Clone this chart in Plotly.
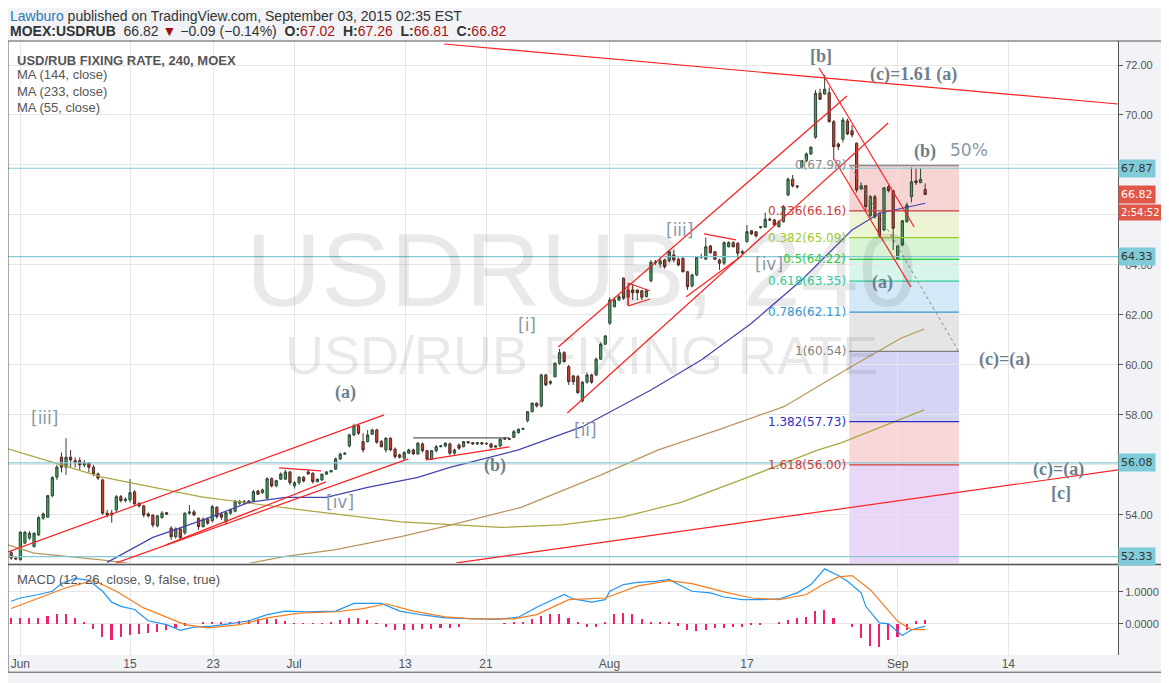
import plotly.graph_objects as go
from plotly.subplots import make_subplots

# ---------------- data (4h candles, bar index 0..200) ----------------
opens = [52.49,52.27,52.2,52.87,53.07,52.73,53.2,53.87,53.91,54.77,
 55.51,56.31,55.91,56.31,56.17,56.17,56.0,56.09,55.91,55.64,
 55.4,54.07,54.07,54.2,54.73,54.57,54.6,54.92,54.47,54.36,
 54.04,54.0,53.56,53.89,54.09,53.47,53.13,53.44,53.29,54.07,
 54.12,53.87,53.53,53.83,53.77,54.31,54.04,53.73,54.07,54.15,
 54.47,54.53,54.5,54.57,54.96,54.89,54.67,55.45,55.17,55.43,
 55.43,55.72,55.16,55.29,55.51,55.72,55.67,55.33,55.4,55.63,
 55.72,55.83,56.24,56.43,56.76,57.2,57.57,56.93,56.93,57.23,
 57.4,56.93,56.6,57.07,56.63,56.4,56.27,56.47,56.6,56.44,
 56.84,56.57,56.23,56.57,56.73,56.76,56.84,56.47,56.8,56.73,
 56.93,56.89,56.84,56.89,56.84,56.84,56.71,56.76,57.03,57.05,
 57.1,57.29,57.43,57.77,58.13,58.47,58.36,59.6,59.27,59.53,
 60.07,60.49,59.93,59.56,59.53,58.56,59.31,59.6,59.6,60.23,
 60.83,61.67,62.33,62.6,63.47,62.71,63.0,63.0,62.97,62.73,
 63.37,64.08,64.04,64.2,64.17,64.4,64.23,64.27,63.73,63.16,
 63.6,64.31,64.23,64.76,64.53,64.2,64.07,64.73,64.89,64.87,
 64.47,64.93,65.37,65.33,65.5,65.51,65.83,65.8,65.53,65.73,
 66.8,67.43,67.16,67.91,68.17,68.44,69.11,70.87,70.84,70.89,
 69.73,68.84,69.03,69.76,69.37,68.87,67.04,67.17,65.97,66.73,
 66.07,65.4,67.13,66.97,64.23,64.8,65.73,66.73,67.37,67.29,67.02]
closes = [52.27,52.24,53.31,53.31,53.27,53.27,53.89,54.04,54.77,55.49,
 55.91,55.91,56.31,56.2,56.09,56.0,56.09,55.91,55.64,55.47,
 54.07,54.0,54.0,54.73,54.57,54.63,54.89,54.44,54.36,54.0,
 53.96,53.6,53.96,54.07,54.03,53.13,53.44,53.09,54.07,54.12,
 54.0,53.53,53.83,53.67,54.33,53.93,53.91,54.09,54.2,54.55,
 54.53,54.47,54.55,54.93,54.83,55.0,55.45,55.16,55.37,55.64,
 55.72,55.29,55.29,55.51,55.36,55.64,55.33,55.43,55.63,55.72,
 55.77,56.24,56.43,56.47,57.2,57.57,57.27,56.6,57.2,57.4,
 56.91,56.73,57.07,56.6,56.33,56.31,56.49,56.6,56.44,56.87,
 56.57,56.23,56.57,56.73,56.76,56.87,56.47,56.6,56.67,56.93,
 56.89,56.84,56.89,56.84,56.86,56.71,56.76,57.03,57.05,57.03,
 57.33,57.43,57.45,58.13,58.47,58.36,59.6,59.2,59.33,60.07,
 60.49,60.13,59.33,59.33,58.89,59.31,59.6,59.31,60.23,60.83,
 61.16,62.6,62.6,62.73,62.67,63.0,62.89,62.89,62.71,62.97,
 64.11,64.13,64.17,63.93,64.53,64.2,64.0,63.73,63.13,63.6,
 64.31,64.33,64.73,64.49,64.23,64.07,64.89,64.89,64.73,64.47,
 64.53,65.33,65.24,65.16,65.53,65.83,65.8,65.6,65.73,66.33,
 67.43,67.16,67.13,68.17,68.44,68.71,70.87,70.63,71.03,69.73,
 68.73,68.73,69.8,69.24,69.2,67.0,67.17,66.33,66.73,65.93,
 65.2,67.09,66.97,65.47,64.76,65.77,66.4,67.33,67.29,67.43,66.82]
highs = [52.6,52.3,53.35,53.35,53.35,53.3,53.95,54.1,54.8,55.55,
 56.0,56.5,57.07,56.6,56.3,56.3,56.2,56.1,56.0,55.7,
 55.45,54.2,54.2,54.8,54.8,54.7,55.43,55.0,54.5,54.4,
 54.1,54.0,54.0,54.15,54.1,53.55,53.5,53.5,54.1,54.4,
 54.2,53.9,53.9,53.9,54.4,54.35,54.1,54.15,54.25,54.6,
 54.6,54.6,54.6,55.0,55.0,55.05,55.5,55.5,55.4,55.7,
 55.8,55.75,55.35,55.55,55.55,55.8,55.7,55.45,55.65,55.75,
 55.8,56.3,56.5,56.5,57.25,57.65,57.6,57.27,57.4,57.45,
 57.45,57.0,57.1,57.1,56.7,56.45,56.55,56.65,56.65,56.9,
 56.9,56.6,56.6,56.8,56.8,56.9,56.9,56.65,56.85,56.95,
 56.95,56.9,56.92,56.9,56.9,56.88,56.8,57.05,57.1,57.08,
 57.4,57.45,57.5,58.15,58.5,58.5,59.65,59.65,59.4,60.1,
 60.65,60.55,60.0,59.6,59.6,59.35,59.7,59.65,60.3,60.9,
 61.2,62.7,62.7,62.8,63.5,63.1,63.2,63.0,63.0,63.05,
 64.2,64.2,64.3,64.25,64.6,64.6,64.3,64.3,63.75,63.65,
 64.35,64.45,65.1,64.8,64.55,64.25,64.95,64.95,64.95,64.9,
 64.6,65.6,65.4,65.35,65.55,66.1,65.9,65.85,65.8,66.4,
 67.5,67.6,67.2,68.2,68.5,68.75,71.0,71.05,71.6,71.1,
 69.8,68.9,69.9,69.85,69.6,68.9,67.3,67.2,66.8,66.8,
 66.1,67.1,67.2,67.0,64.8,65.8,66.5,67.9,67.87,67.87,67.26]
lows = [52.2,52.2,52.2,52.85,53.0,52.7,53.15,53.8,53.9,54.7,
 55.4,55.7,55.6,55.9,55.9,55.8,55.9,55.7,55.55,55.4,
 54.0,53.9,53.69,54.1,54.5,54.5,54.5,54.4,54.3,53.9,
 53.9,53.5,53.5,53.85,54.0,53.0,53.05,53.0,53.2,54.0,
 53.95,53.4,53.5,53.6,53.7,53.85,53.8,53.6,54.0,54.1,
 54.4,54.4,54.45,54.5,54.8,54.85,54.6,55.1,55.1,55.4,
 55.4,55.2,55.05,55.2,55.3,55.6,55.25,55.3,55.35,55.6,
 55.7,55.8,56.2,56.4,56.7,57.15,57.2,56.5,56.9,57.2,
 56.85,56.7,56.5,56.55,56.25,56.25,56.2,56.45,56.4,56.4,
 56.5,56.2,56.2,56.5,56.7,56.7,56.4,56.4,56.6,56.7,
 56.85,56.8,56.8,56.8,56.8,56.65,56.7,56.7,57.0,57.0,
 57.1,57.25,57.4,57.7,58.1,58.3,58.3,59.15,59.2,59.5,
 60.0,60.1,59.2,59.2,58.85,58.5,59.25,59.25,59.55,60.2,
 60.8,61.6,62.3,62.55,62.6,62.4,62.6,62.6,62.6,62.7,
 63.3,64.0,63.9,63.85,64.1,64.1,63.95,63.7,63.0,63.1,
 63.55,64.25,64.2,64.45,64.2,63.8,64.0,64.7,64.7,64.2,
 64.4,64.9,65.2,65.1,65.45,65.5,65.75,65.55,65.5,65.7,
 66.75,67.1,67.05,67.85,68.1,68.4,69.05,70.6,70.8,69.7,
 68.27,68.6,68.9,69.2,69.1,66.9,67.0,66.2,65.9,65.85,
 65.1,65.35,66.9,64.6,64.2,64.75,65.7,66.5,67.2,67.3,66.81]
bars = list(range(len(closes)))

ma55_x = [21,31,42,52,60,69,78,89,96,111,125,140,151,162,173,184,190,200]
ma55_y = [52.1,53.1,53.8,54.5,54.7,54.7,55.1,55.5,55.9,56.6,57.53,59.0,60.2,61.67,63.4,65.4,66.07,66.47]
ma144_x = [-0.7,5,19.7,30.6,48.8,59.7,70.7,85.3,96.3,111.6,129.1,141.6,154.7,169.1,183.8,194.7,199.8]
ma144_y = [52.8,52.47,52.2,51.95,51.95,52.33,52.6,53.13,53.6,54.3,55.6,56.6,57.4,58.33,59.93,61.07,61.44]
ma233_x = [-0.7,19.7,41.6,63.5,85.3,96.3,107.2,120.4,133.5,146.6,159.7,176.6,181.6,199.8]
ma233_y = [56.64,55.52,54.72,54.2,53.72,53.6,53.5,53.6,53.9,54.5,55.4,56.6,56.88,58.2]

macd_x = [0,2,6,9,11,14,17,20,22,24,27,30,34,37,40,44,48,52,56,60,65,71,75,81,85,90,95,101,106,111,115,121,123,127,130,131,134,137,141,144,146,149,153,156,160,164,168,172,175,178,181,183,186,187,190,192,195,197,200]
macd_y = [.71,.81,.92,1.02,1.26,1.42,1.36,1.02,.68,.55,.45,.10,-.02,-.2,-.1,-.07,.01,.10,.29,.40,.38,.40,.64,.64,.40,.28,.19,.16,.14,.21,.52,.92,.78,.68,.76,1.02,1.23,1.30,1.33,1.39,1.23,1.02,.97,.84,.76,.76,.78,.97,1.23,1.72,1.51,1.33,.97,.55,.03,0,-.36,-.18,-.07]
signal_x = [0,6,12,18,23,29,34,38,43,50,56,63,71,77,82,88,95,101,110,115,122,125,130,137,144,149,156,162,168,174,178,181,184,188,194,197,200]
signal_y = [.48,.81,1.13,1.36,1.02,.5,.22,-.02,-.125,-.02,.19,.34,.38,.48,.63,.40,.22,.16,.16,.29,.76,.78,.81,1.18,1.35,1.26,1.0,.81,.76,.92,1.26,1.47,1.51,1.07,.08,-.18,-.18]
hist_x = list(range(0, 201, 2))
hist_y = [0.2,0.2,0.19,0.2,0.25,0.3,0.3,0.2,0.05,-0.15,-0.42,-0.5,-0.42,-0.35,-0.3,-0.27,-0.25,-0.2,-0.12,-0.05,
 0,0.04,0.05,0.05,0.06,0.08,0.12,0.15,0.16,0.15,0.08,0.03,0.02,0.01,0.01,0.05,0.12,0.18,0.2,0.12,
 0.03,-0.08,-0.18,-0.2,-0.18,-0.16,-0.15,-0.14,-0.12,-0.08,0,0,0,0,0.02,0.05,0.05,0.15,0.25,0.3,
 0.32,0.2,0.05,-0.1,-0.1,0.05,0.3,0.33,0.3,0.15,0.07,0.06,0.05,-0.05,-0.2,-0.22,-0.18,-0.13,-0.12,-0.1,
 -0.08,-0.04,-0.02,0,0.05,0.12,0.18,0.22,0.4,0.45,0.2,0,-0.1,-0.45,-0.7,-0.72,-0.5,-0.4,-0.2,0.08,0.12]

fib_ratio = ["0","0.236","0.382","0.5","0.618","0.786","1","1.382","1.618"]
fib_price = [67.98,66.16,65.09,64.22,63.35,62.11,60.54,57.73,56.00]
fib_line = ["#8c8c8c","#cc3a3a","#9ccc2e","#2ecc40","#2ecc9a","#3a96cc","#808080","#3030c0","#cc3a3a"]
fib_fill = ["rgba(230,120,120,0.32)","rgba(200,225,120,0.32)","rgba(130,220,120,0.32)","rgba(110,220,180,0.28)",
            "rgba(120,185,230,0.32)","rgba(175,175,175,0.32)","rgba(120,120,220,0.32)","rgba(230,130,130,0.32)",
            "rgba(190,130,230,0.32)"]

tick_pos = [2,26,44.2,61.9,86.2,103.9,130.9,161,194,218.2]
tick_txt = ["Jun","15","23","Jul","13","21","Aug","17","Sep","14"]
price_ticks = [54,56,58,60,62,64,66,68,70,72]
hlines = [67.87,64.33,56.08,52.33]

# ---------------- figure ----------------
fig = make_subplots(rows=2, cols=1, shared_xaxes=True, vertical_spacing=0.005,
                    row_heights=[0.85, 0.15])
YMIN, YMAX = 52.08, 72.96
XMIN, XMAX = -0.7, 242.2

fig.add_trace(go.Scatter(x=ma144_x, y=ma144_y, mode="lines", line=dict(color="#b8955c", width=1.2), hoverinfo="skip"), 1, 1)
fig.add_trace(go.Scatter(x=ma233_x, y=ma233_y, mode="lines", line=dict(color="#aaa640", width=1.2), hoverinfo="skip"), 1, 1)
fig.add_trace(go.Scatter(x=ma55_x, y=ma55_y, mode="lines", line=dict(color="#4444b0", width=1.2), hoverinfo="skip"), 1, 1)
fig.add_trace(go.Candlestick(x=bars, open=opens, high=highs, low=lows, close=closes,
    increasing=dict(fillcolor="#46a064", line=dict(color="#2b4733", width=1)),
    decreasing=dict(fillcolor="#c9412f", line=dict(color="#4d2a24", width=1)),
    whiskerwidth=0), 1, 1)

fig.add_trace(go.Bar(x=hist_x, y=hist_y, marker=dict(color="#f0206c", line=dict(width=0)), width=0.35), 2, 1)
fig.add_trace(go.Scatter(x=macd_x, y=macd_y, mode="lines", line=dict(color="#2196f3", width=1.2)), 2, 1)
fig.add_trace(go.Scatter(x=signal_x, y=signal_y, mode="lines", line=dict(color="#f57c1f", width=1.2)), 2, 1)

shapes = []
def seg(x0, y0, x1, y1, color="#ff2020", width=1.2, dash="solid"):
    shapes.append(dict(type="line", xref="x", yref="y", x0=x0, y0=y0, x1=x1, y1=y1,
                       line=dict(color=color, width=width, dash=dash)))

# Fibonacci box
FX0, FX1 = 183.4, 207.4
bounds = fib_price + [YMIN]
for i in range(len(fib_price)):
    shapes.append(dict(type="rect", xref="x", yref="y", x0=FX0, x1=FX1, y0=bounds[i+1], y1=bounds[i],
                       fillcolor=fib_fill[i], line=dict(width=0), layer="below"))
for p, c in zip(fib_price, fib_line):
    seg(FX0, p, FX1, p, color=c, width=1.3)

for h in hlines:
    shapes.append(dict(type="line", xref="paper", yref="y", x0=0, x1=1, y0=h, y1=h,
                       line=dict(color="#86c9d6", width=1.2)))

# trend lines
seg(94.7, 72.84, 242.2, 70.44)
seg(97.4, 52.08, 242.2, 55.8)
seg(-0.7, 52.52, 81.6, 58.0)
seg(23, 52.08, 86.9, 56.24)
seg(33.9, 52.8, 68.9, 55.32)
seg(58.6, 55.88, 67.8, 55.76)
seg(88, 57.08, 109, 57.08, color="#333333", width=1)
seg(90.8, 56.2, 109, 56.72)
seg(119.7, 60.72, 182.9, 70.76)
seg(121.7, 58.08, 191.9, 69.68)
seg(135, 63.28, 139.8, 62.96)
seg(135, 62.36, 139.8, 62.64)
seg(135, 63.28, 135, 62.36)
seg(151.6, 65.24, 158.6, 65.0)
seg(147.7, 62.73, 159.8, 64.36)
seg(176.8, 71.88, 197.6, 65.52)
seg(179.9, 68.28, 196.9, 63.12)
seg(183.8, 67.92, 207.4, 60.52, color="#888888", width=1, dash="dot")

# outer frame and pane separator
shapes.append(dict(type="rect", xref="paper", yref="paper", x0=0, x1=1.042, y0=-0.028, y1=1.0,
                   line=dict(color="#555555", width=1)))
shapes.append(dict(type="line", xref="paper", yref="paper", x0=0, x1=1.042, y0=0.1475, y1=0.1475,
                   line=dict(color="#555555", width=1.5)))

ann = []
def txt(x, y, s, size=17, color="#6d7f8e", bold=True, font="Liberation Serif", xanchor="center"):
    ann.append(dict(x=x, y=y, xref="x", yref="y", text=("<b>%s</b>" % s) if bold else s, showarrow=False,
                    font=dict(family=font, size=size, color=color), xanchor=xanchor))

# watermark
ann.append(dict(x=124.7, y=63.8, xref="x", yref="y", text="USDRUB, 240", showarrow=False,
                font=dict(family="Liberation Sans", size=104, color="rgba(0,0,0,0.085)")))
ann.append(dict(x=124.7, y=60.4, xref="x", yref="y", text="USD/RUB FIXING RATE", showarrow=False,
                font=dict(family="Liberation Sans", size=54, color="rgba(0,0,0,0.085)")))

txt(73.1, 58.88, "(a)", size=18)
txt(7.2, 57.88, "[iii]", bold=False, color="#8798a8", font="DejaVu Sans")
txt(72.0, 54.52, "[iv]", bold=False, color="#8798a8", font="DejaVu Sans")
txt(105.9, 55.96, "(b)", size=18)
txt(112.9, 61.6, "[i]", bold=False, color="#8798a8", font="DejaVu Sans")
txt(125.6, 57.4, "[ii]", bold=False, color="#8798a8", font="DejaVu Sans")
txt(146.2, 65.4, "[iii]", bold=False, color="#8798a8", font="DejaVu Sans")
txt(165.9, 64.04, "[iv]", bold=False, color="#8798a8", font="DejaVu Sans")
txt(177.2, 72.36, "[b]", size=18)
txt(197.4, 71.6, "(c)=1.61 (a)", size=18)
txt(200, 68.52, "(b)", size=18)
txt(209.5, 68.6, "50%", bold=False, color="#8798a8", font="DejaVu Sans")
txt(190.6, 63.28, "(a)", size=18)
txt(217.3, 60.2, "(c)=(a)", size=18)
txt(229.1, 55.8, "(c)=(a)", size=18)
txt(229.8, 54.88, "[c]", size=18)

for r, p, c in zip(fib_ratio, fib_price, fib_line):
    ann.append(dict(x=FX0 - 0.3, y=p, xref="x", yref="y", text="%s(%.2f)" % (r, p), showarrow=False,
                    xanchor="right", font=dict(family="DejaVu Sans", size=12, color=c)))

# right axis price boxes
def pbox(y, s, bg, fg, size=11):
    ann.append(dict(x=1.0, y=y, xref="paper", yref="y", text=s, showarrow=False, xanchor="left",
                    bgcolor=bg, font=dict(family="DejaVu Sans", size=size, color=fg), borderpad=2))
pbox(67.87, "67.87", "#7fcbd8", "#333333")
pbox(66.82, "66.82", "#e0574a", "#ffffff")
pbox(66.1, "2:54:52", "#e0574a", "#ffffff", size=10)
pbox(64.33, "64.33", "#7fcbd8", "#333333")
pbox(56.08, "56.08", "#7fcbd8", "#333333")
pbox(52.33, "52.33", "#7fcbd8", "#333333")

def ptxt(x, y, s, size=13, color="#333", xanchor="left"):
    ann.append(dict(x=x, y=y, xref="paper", yref="paper", text=s, showarrow=False, xanchor=xanchor,
                    yanchor="middle", font=dict(family="Liberation Sans", size=size, color=color)))
ptxt(0.0, 1.040, "<span style='color:#2a7ab8'>Lawburo</span> published on TradingView.com, September 03, 2015 02:35 EST", 14)
ptxt(0.0, 1.0165, "<b>MOEX:USDRUB</b>  66.82 <span style='color:#a01010'>▼</span> −0.09 (−0.14%)  <b>O:</b><span style='color:#b01010'>67.02</span>  <b>H:</b><span style='color:#b01010'>67.26</span>  <b>L:</b><span style='color:#b01010'>66.81</span>  <b>C:</b><span style='color:#b01010'>66.82</span>", 14)
ptxt(0.006, 0.969, "<b>USD/RUB FIXING RATE, 240, MOEX</b>", 13, "#555555")
ptxt(0.006, 0.946, "MA (144, close)", 13, "#555555")
ptxt(0.006, 0.918, "MA (233, close)", 13, "#555555")
ptxt(0.006, 0.891, "MA (55, close)", 13, "#555555")
ann.append(dict(x=0.006, y=0.138, xref="paper", yref="paper", text="MACD (12, 26, close, 9, false, true)",
                showarrow=False, xanchor="left", yanchor="top",
                font=dict(family="Liberation Sans", size=13, color="#555555")))

fig.update_layout(
    width=1161, height=675, margin=dict(l=0, r=51, t=33, b=28),
    paper_bgcolor="#f1f3f6", plot_bgcolor="#ffffff", showlegend=False,
    shapes=shapes, annotations=ann, bargap=0,
    font=dict(family="Liberation Sans", color="#555555"),
)
fig.update_xaxes(range=[XMIN, XMAX], tickvals=tick_pos, ticktext=tick_txt, showgrid=True,
                 gridcolor="#e6e6e6", zeroline=False, rangeslider=dict(visible=False), fixedrange=True)
fig.update_xaxes(showticklabels=False, row=1, col=1)
fig.update_xaxes(showticklabels=True, tickfont=dict(size=12, color="#555555"), row=2, col=1)
fig.update_yaxes(side="right", gridcolor="#e6e6e6", zeroline=False, showline=True, linecolor="#555555",
                 ticks="outside", ticklen=4, tickcolor="#555555", tickfont=dict(size=11, color="#555555"))
fig.update_yaxes(range=[YMIN, YMAX], tickvals=price_ticks, tickformat=".2f", domain=[0.150, 1.0], row=1, col=1)
fig.update_yaxes(range=[-0.97, 1.81], tickvals=[0, 1], tickformat=".4f", domain=[0.0, 0.145], row=2, col=1)

fig.write_html("out.html")
